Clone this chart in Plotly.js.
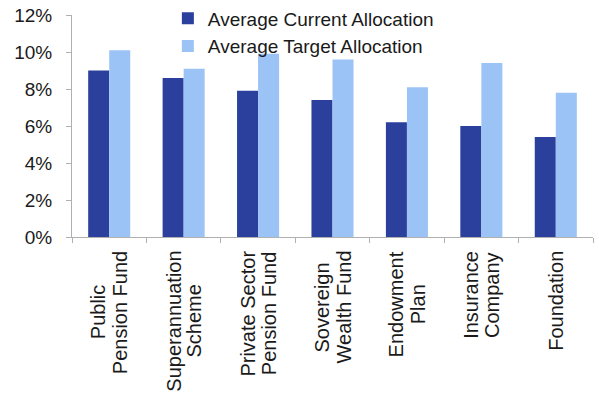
<!DOCTYPE html>
<html>
<head>
<meta charset="utf-8">
<script src="https://cdn.plot.ly/plotly-3.0.1.min.js"></script>
<style>html,body{margin:0;padding:0;background:#fff;}#chart{width:599px;height:400px;}</style>
</head>
<body>
<div id="chart"></div>
<script>
const categories = ["Public Pension Fund","Superannuation Scheme","Private Sector Pension Fund","Sovereign Wealth Fund","Endowment Plan","Insurance Company","Foundation"];
const categoryLabels = ["Public<br>Pension Fund","Superannuation<br>Scheme","Private Sector<br>Pension Fund","Sovereign<br>Wealth Fund","Endowment<br>Plan","Insurance<br>Company","Foundation"];
const currentAllocation = [0.090, 0.086, 0.079, 0.074, 0.062, 0.060, 0.054];
const targetAllocation = [0.101, 0.091, 0.099, 0.096, 0.081, 0.094, 0.078];
const seriesNames = ["Average Current Allocation","Average Target Allocation"];

const font = "Liberation Sans, Arial, sans-serif";
const labelSize = 20;
const lineGap = 21;

const canvas = document.createElement('canvas');
const ctx = canvas.getContext('2d');
ctx.font = labelSize + "px 'Liberation Sans', Arial, sans-serif";

const traces = [
  {type:'bar', name:seriesNames[0], x:categories, y:currentAllocation, marker:{color:'#2b3f9c'}, hoverinfo:'none'},
  {type:'bar', name:seriesNames[1], x:categories, y:targetAllocation, marker:{color:'#9cc3f6'}, hoverinfo:'none'}
];

const annotations = [];
categories.forEach((c,i)=>{
  const lines = categoryLabels[i].split('<br>');
  const widths = lines.map(l=>ctx.measureText(l).width);
  const maxW = Math.max(...widths);
  lines.forEach((line,j)=>{
    annotations.push({
      x:c, xref:'x', y:0, yref:'paper', yanchor:'top', xanchor:'center',
      xshift:(j-(lines.length-1)/2)*lineGap,
      yshift:-12-(maxW-widths[j])/2,
      textangle:-90, text:line, showarrow:false,
      font:{family:font, size:labelSize, color:'#1a1a1a'}
    });
  });
});

const layout = {
  width:599, height:400,
  margin:{l:72, r:6, t:15, b:163, autoexpand:false},
  paper_bgcolor:'#fff', plot_bgcolor:'#fff',
  barmode:'group', bargap:0.435, bargroupgap:0,
  showlegend:true,
  legend:{x:0.184, xanchor:'left', y:1.07, yanchor:'top', bgcolor:'rgba(0,0,0,0)',
    font:{family:font, size:19, color:'#1a1a1a'}, tracegroupgap:0},
  xaxis:{type:'category', showticklabels:false, showline:true, linecolor:'#b0b0b0', linewidth:1,
    ticks:'outside', tickson:'boundaries', ticklen:5, tickcolor:'#b0b0b0', showgrid:false, zeroline:false},
  yaxis:{range:[0,0.12], dtick:0.02, tickformat:'.0%', showline:true, linecolor:'#b0b0b0', linewidth:1,
    ticks:'outside', ticklen:5, tickcolor:'#b0b0b0', showgrid:false, zeroline:false,
    ticklabelstandoff:10, tickfont:{family:font, size:19, color:'#1a1a1a'}},
  annotations:annotations
};

Plotly.newPlot('chart', traces, layout, {staticPlot:true, displayModeBar:false});
</script>
</body>
</html>
